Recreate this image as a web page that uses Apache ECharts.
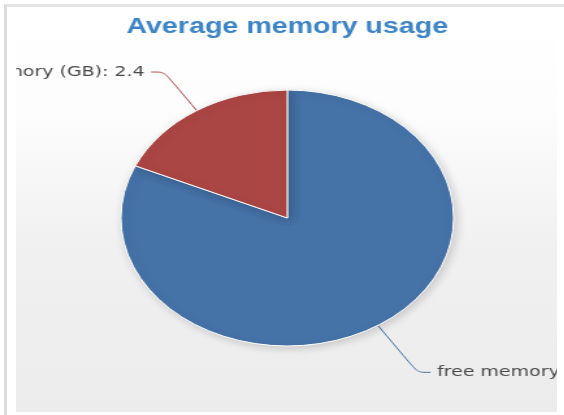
<!DOCTYPE html>
<html>
<head>
  <meta charset="utf-8">
  <title>Average memory usage</title>
  <script src="https://cdn.jsdelivr.net/npm/echarts@6/dist/echarts.min.js"></script>
  <style>
    body { margin: 0; background: #fff; width: 564px; height: 415px; overflow: hidden; position: relative; }
    #frame { position: absolute; left: 4px; top: 4px; width: 560px; height: 420px;
             border-left: 3px solid #dcdcdc; border-top: 3px solid #e4e4e4; }
    #panel { position: absolute; left: 16px; top: 7px; width: 541px; height: 405px; overflow: hidden;
             background: linear-gradient(to bottom, #ffffff 0%, #fdfdfd 25%, #f0f0f0 60%, #ececec 100%); }
    #main { position: absolute; left: -16px; top: -7px; width: 442px; height: 415px;
            transform: scaleX(1.3); transform-origin: 0 0; }
  </style>
</head>
<body>
<div id="frame"></div>
<div id="panel"><div id="main"></div></div>
<script type="text/javascript">
  // data
  var sliceNames = ['free memory', 'used memory'];
  var sliceValues = [10.7, 2.4];
  var sliceColors = ['#4572A7', '#AA4643'];

  var myChart = echarts.init(document.getElementById('main'));
  var option;

  // connector lengths differ a bit per slice in the original
  var lineLen = [56, 46];

  option = {
    animation: false,
    title: {
      text: 'Average memory usage',
      left: 'center',
      top: 16,
      padding: 0,
      textStyle: {
        color: '#3d84c6',
        fontFamily: 'Liberation Sans, Arial, sans-serif',
        fontWeight: 'bold',
        fontSize: 22
      }
    },
    series: [
      {
        name: 'memory',
        type: 'pie',
        center: [221, 218],
        radius: 128,
        startAngle: 90,
        clockwise: true,
        avoidLabelOverlap: false,
        data: sliceNames.map(function (n, i) {
          return {
            name: n,
            value: sliceValues[i],
            itemStyle: { color: sliceColors[i] },
            labelLine: { length: lineLen[i] }
          };
        }),
        itemStyle: {
          borderColor: '#ffffff',
          borderWidth: 1,
          shadowBlur: 8,
          shadowOffsetX: 2,
          shadowOffsetY: 2,
          shadowColor: 'rgba(0, 0, 0, 0.18)'
        },
        label: {
          show: true,
          position: 'outer',
          alignTo: 'none',
          overflow: 'none',
          formatter: '{b} (GB): {c}',
          color: '#4a4a4a',
          fontFamily: 'DejaVu Sans, Verdana, sans-serif',
          fontSize: 14.6,
          distanceToLabelLine: 5
        },
        labelLine: {
          show: true,
          length2: 10,
          smooth: 0.3,
          lineStyle: { width: 1 }
        },
        emphasis: { disabled: true }
      }
    ]
  };

  option && myChart.setOption(option);
</script>
</body>
</html>
